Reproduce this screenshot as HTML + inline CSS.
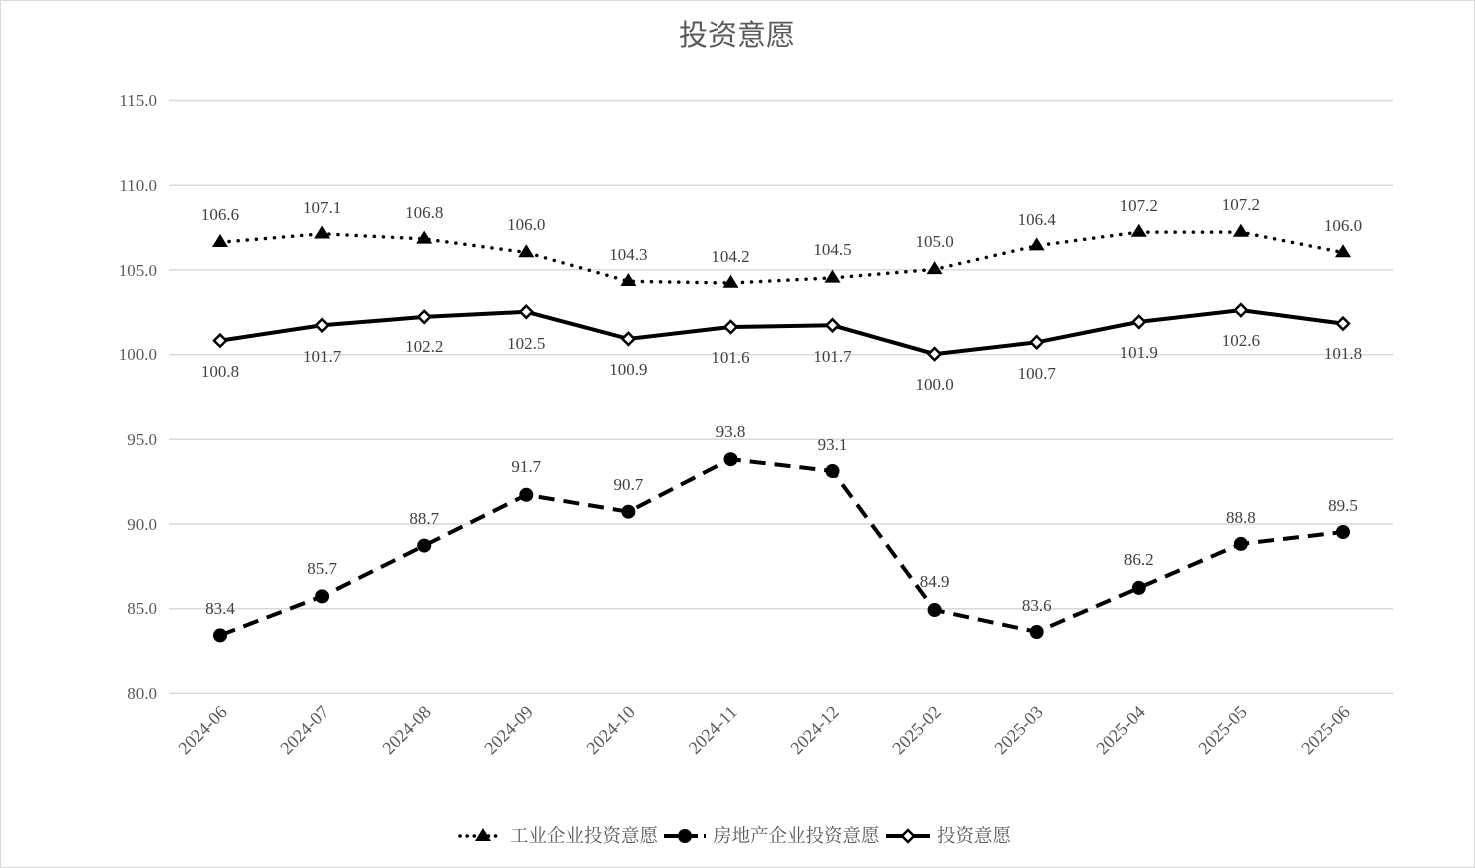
<!DOCTYPE html>
<html><head><meta charset="utf-8"><style>
body{margin:0;background:#fff}
svg{display:block;font-family:"Liberation Serif","Noto Serif CJK SC",serif}
</style></head><body>
<svg width="1475" height="868" viewBox="0 0 1475 868" xmlns="http://www.w3.org/2000/svg">
<rect x="0.5" y="0.5" width="1474" height="867" fill="#fff" stroke="#d9d9d9"/>
<text x="737" y="45" text-anchor="middle" font-size="29" fill="#595959" font-family="Liberation Sans,Noto Sans CJK SC,sans-serif">投资意愿</text>
<g stroke="#d9d9d9" stroke-width="1.5">
<line x1="169" x2="1393" y1="100.5" y2="100.5"/><line x1="169" x2="1393" y1="185.2" y2="185.2"/>
<line x1="169" x2="1393" y1="269.9" y2="269.9"/><line x1="169" x2="1393" y1="354.6" y2="354.6"/>
<line x1="169" x2="1393" y1="439.3" y2="439.3"/><line x1="169" x2="1393" y1="524" y2="524"/>
<line x1="169" x2="1393" y1="608.7" y2="608.7"/><line x1="169" x2="1393" y1="693.4" y2="693.4"/>
</g>
<g font-size="17" fill="#595959" text-anchor="end">
<text x="157" y="106">115.0</text><text x="157" y="191">110.0</text><text x="157" y="276">105.0</text>
<text x="157" y="360">100.0</text><text x="157" y="445">95.0</text><text x="157" y="530">90.0</text>
<text x="157" y="614">85.0</text><text x="157" y="699">80.0</text>
</g>
<g font-size="18" fill="#595959" text-anchor="end">
<text transform="translate(228,713) rotate(-45)">2024-06</text>
<text transform="translate(330,713) rotate(-45)">2024-07</text>
<text transform="translate(432,713) rotate(-45)">2024-08</text>
<text transform="translate(534,713) rotate(-45)">2024-09</text>
<text transform="translate(636,713) rotate(-45)">2024-10</text>
<text transform="translate(738,713) rotate(-45)">2024-11</text>
<text transform="translate(840,713) rotate(-45)">2024-12</text>
<text transform="translate(942,713) rotate(-45)">2025-02</text>
<text transform="translate(1044,713) rotate(-45)">2025-03</text>
<text transform="translate(1146,713) rotate(-45)">2025-04</text>
<text transform="translate(1248,713) rotate(-45)">2025-05</text>
<text transform="translate(1351,713) rotate(-45)">2025-06</text>
</g>
<polyline fill="none" stroke="#000" stroke-width="3.5" stroke-dasharray="0.1 9" stroke-linecap="round" points="220,242.3 322.1,233.8 424.2,238.9 526.3,252.5 628.4,281.3 730.5,283 832.5,277.9 934.6,269.4 1036.7,245.7 1138.8,232.1 1240.9,232.1 1343,252.5"/>
<g fill="#000">
<path d="M220,234l8,13h-16z"/><path d="M322.1,225.5l8,13h-16z"/><path d="M424.2,230.6l8,13h-16z"/><path d="M526.3,244.2l8,13h-16z"/><path d="M628.4,273l8,13h-16z"/><path d="M730.5,274.7l8,13h-16z"/><path d="M832.5,269.6l8,13h-16z"/><path d="M934.6,261.1l8,13h-16z"/><path d="M1036.7,237.4l8,13h-16z"/><path d="M1138.8,223.8l8,13h-16z"/><path d="M1240.9,223.8l8,13h-16z"/><path d="M1343,244.2l8,13h-16z"/>
</g>
<g font-size="17" fill="#404040" text-anchor="middle">
<text x="220" y="220">106.6</text><text x="322.1" y="213">107.1</text><text x="424.2" y="218">106.8</text><text x="526.3" y="230">106.0</text><text x="628.4" y="260">104.3</text><text x="730.5" y="262">104.2</text><text x="832.5" y="255">104.5</text><text x="934.6" y="247">105.0</text><text x="1036.7" y="225">106.4</text><text x="1138.8" y="211">107.2</text><text x="1240.9" y="210">107.2</text><text x="1343" y="231">106.0</text>
</g>
<polyline fill="none" stroke="#000" stroke-width="4" points="220,340.6 322.1,325.3 424.2,316.9 526.3,311.8 628.4,338.9 730.5,327 832.5,325.3 934.6,354.1 1036.7,342.3 1138.8,321.9 1240.9,310.1 1343,323.6"/>
<g fill="#fff" stroke="#000" stroke-width="2.5">
<path d="M220,334.6l6,6l-6,6l-6,-6z"/><path d="M322.1,319.3l6,6l-6,6l-6,-6z"/><path d="M424.2,310.9l6,6l-6,6l-6,-6z"/><path d="M526.3,305.8l6,6l-6,6l-6,-6z"/><path d="M628.4,332.9l6,6l-6,6l-6,-6z"/><path d="M730.5,321l6,6l-6,6l-6,-6z"/><path d="M832.5,319.3l6,6l-6,6l-6,-6z"/><path d="M934.6,348.1l6,6l-6,6l-6,-6z"/><path d="M1036.7,336.3l6,6l-6,6l-6,-6z"/><path d="M1138.8,315.9l6,6l-6,6l-6,-6z"/><path d="M1240.9,304.1l6,6l-6,6l-6,-6z"/><path d="M1343,317.6l6,6l-6,6l-6,-6z"/>
</g>
<g font-size="17" fill="#404040" text-anchor="middle">
<text x="220" y="377">100.8</text><text x="322.1" y="362">101.7</text><text x="424.2" y="352">102.2</text><text x="526.3" y="349">102.5</text><text x="628.4" y="375">100.9</text><text x="730.5" y="363">101.6</text><text x="832.5" y="362">101.7</text><text x="934.6" y="390">100.0</text><text x="1036.7" y="379">100.7</text><text x="1138.8" y="358">101.9</text><text x="1240.9" y="346">102.6</text><text x="1343" y="359">101.8</text>
</g>
<polyline fill="none" stroke="#000" stroke-width="4" stroke-dasharray="16 9" points="220,635.4 322.1,596.4 424.2,545.6 526.3,494.8 628.4,511.7 730.5,459.2 832.5,471 934.6,610 1036.7,632 1138.8,587.9 1240.9,543.9 1343,532"/>
<g fill="#000">
<circle cx="220" cy="635.4" r="7"/><circle cx="322.1" cy="596.4" r="7"/><circle cx="424.2" cy="545.6" r="7"/><circle cx="526.3" cy="494.8" r="7"/><circle cx="628.4" cy="511.7" r="7"/><circle cx="730.5" cy="459.2" r="7"/><circle cx="832.5" cy="471" r="7"/><circle cx="934.6" cy="610" r="7"/><circle cx="1036.7" cy="632" r="7"/><circle cx="1138.8" cy="587.9" r="7"/><circle cx="1240.9" cy="543.9" r="7"/><circle cx="1343" cy="532" r="7"/>
</g>
<g font-size="17" fill="#404040" text-anchor="middle">
<text x="220" y="614">83.4</text><text x="322.1" y="574">85.7</text><text x="424.2" y="524">88.7</text><text x="526.3" y="472">91.7</text><text x="628.4" y="490">90.7</text><text x="730.5" y="437">93.8</text><text x="832.5" y="450">93.1</text><text x="934.6" y="587">84.9</text><text x="1036.7" y="611">83.6</text><text x="1138.8" y="565">86.2</text><text x="1240.9" y="523">88.8</text><text x="1343" y="511">89.5</text>
</g>
<line x1="460" x2="500" y1="836" y2="836" stroke="#000" stroke-width="3.5" stroke-dasharray="0.1 7" stroke-linecap="round"/>
<path d="M483,828l8,13h-16z" fill="#000"/>
<text x="510" y="842" font-size="18.5" fill="#595959">工业企业投资意愿</text>
<line x1="664" x2="706" y1="836" y2="836" stroke="#000" stroke-width="4" stroke-dasharray="14 6"/>
<circle cx="685" cy="836" r="7" fill="#000"/>
<text x="713" y="842" font-size="18.5" fill="#595959">房地产企业投资意愿</text>
<line x1="886" x2="930" y1="836" y2="836" stroke="#000" stroke-width="4"/>
<path d="M908,830l6,6l-6,6l-6,-6z" fill="#fff" stroke="#000" stroke-width="2.5"/>
<text x="937" y="842" font-size="18.5" fill="#595959">投资意愿</text>
</svg>
</body></html>
